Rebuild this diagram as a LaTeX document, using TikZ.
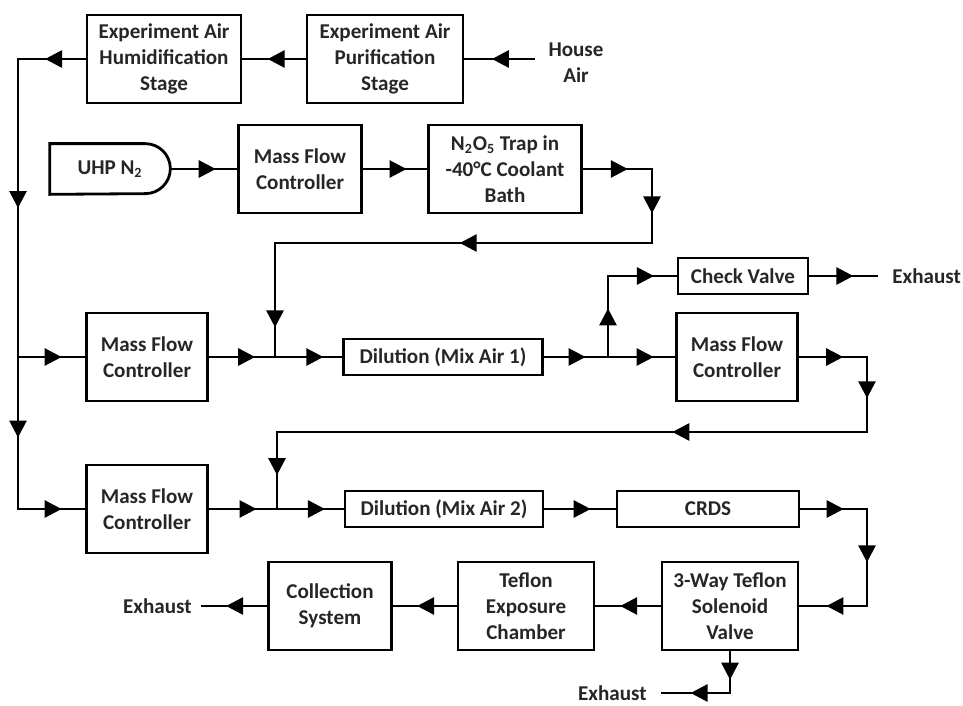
\documentclass[tikz,border=0pt]{standalone}
\usepackage{fontspec}
\setmainfont{Carlito}
\usetikzlibrary{arrows.meta,decorations.markings}

\begin{document}
\begin{tikzpicture}[
      x=0.02cm, y=-0.02cm,
      every node/.style={font=\fontsize{12}{14.8}\selectfont\bfseries, text=black!85},
      pipe/.style={line width=1.6pt, line cap=rect},
      flow/.style={pipe, postaction={decorate}, decoration={markings, mark=at position #1 with {\arrow{Triangle[length=3.4mm, width=3.4mm]}}}},
      flow/.default=0.65,
      unit/.style={draw, line width=1.6pt, align=center, minimum width=2.42cm, minimum height=1.76cm, inner sep=2pt},
      stage/.style={unit, minimum width=3.08cm},
      inline/.style={draw, line width=1.6pt, align=center, minimum height=0.72cm, inner sep=2pt},
      outlet/.style={align=center, inner xsep=0.3cm}
    ]
    \useasboundingbox (0,0) rectangle (963,706);
    % air supply
    \node[stage] (humid) at (164,59) {Experiment Air\\Humidification\\Stage};
    \node[stage, minimum width=3.12cm] (purif) at (385,59) {Experiment Air\\Purification\\Stage};
    \node[outlet] (house) at (576,63) {House\\Air};
    \coordinate (lTop) at (18,59);
    \coordinate (lMid) at (18,357);
    \coordinate (lBot) at (18,509);
    % N2O5 source
    \node[minimum width=2.4cm, minimum height=1cm, inner sep=0pt] (uhp) at (110,169) {UHP N\textsubscript{2}};
    \node[unit, minimum width=2.46cm] (mfcA) at (300,169) {Mass Flow\\Controller};
    \node[unit, minimum width=3.06cm] (trap) at (505,169) {N\textsubscript{2}O\textsubscript{5} Trap in\\-40°C Coolant\\Bath};
    \coordinate (trapOut) at (652,169);
    \coordinate (trapDown) at (652,243);
    \coordinate (feedA) at (275,243);
    \coordinate (mixA) at (275,357);
    % first dilution
    \node[unit] (mfcB) at (147,357) {Mass Flow\\Controller};
    \node[inline, minimum width=3.98cm] (dilA) at (443,357) {Dilution (Mix Air 1)};
    \coordinate (split) at (608,357);
    \coordinate (splitUp) at (608,276);
    \node[inline, minimum width=2.6cm] (check) at (743,276) {Check Valve};
    \node[outlet, anchor=west] (exA) at (877,276) {Exhaust};
    \node[unit] (mfcC) at (737,357) {Mass Flow\\Controller};
    \coordinate (mfcOut) at (867,357);
    \coordinate (mfcDown) at (867,432);
    \coordinate (feedB) at (277,432);
    \coordinate (mixB) at (277,509);
    % second dilution and measurement
    \node[unit] (mfcD) at (147,509) {Mass Flow\\Controller};
    \node[inline, minimum width=3.96cm] (dilB) at (444,509) {Dilution (Mix Air 2)};
    \node[inline, minimum width=3.64cm] (crds) at (708,509) {CRDS};
    \coordinate (crdsOut) at (867,509);
    \coordinate (crdsDown) at (867,606);
    \node[unit, minimum width=2.72cm] (valve) at (730,606) {3-Way Teflon\\Solenoid\\Valve};
    \node[unit, minimum width=2.72cm] (chamber) at (526,606) {Teflon\\Exposure\\Chamber};
    \node[unit, minimum width=2.46cm] (collect) at (330,606) {Collection\\System};
    \node[outlet, anchor=east, inner xsep=0.2cm] (exB) at (202,606) {Exhaust};
    \coordinate (valveDown) at (730,693);
    \node[outlet, anchor=east] (exC) at (662,693) {Exhaust};
    % the tank outline
    \draw[pipe] (uhp.north west) -- ([xshift=-0.5cm]uhp.north east) arc[start angle=90, end angle=-90, radius=0.5cm] -- (uhp.south west) -- cycle;
    % flow lines
    \draw[flow=0.6] (house.west |- purif.east) -- (purif.east);
    \draw[flow=0.6] (purif) -- (humid);
    \draw[flow=0.6] (humid) -- (lTop);
    \draw[flow=0.5] (lTop) -- (lMid);
    \draw[flow=0.53] (lMid) -- (lBot);
    \draw[flow] (lMid) -- (mfcB);
    \draw[flow] (lBot) -- (mfcD);
    \draw[flow=0.68] (uhp.east) -- (mfcA);
    \draw[flow=0.68] (mfcA) -- (trap);
    \draw[flow] (trap.east) -- (trapOut);
    \draw[flow=0.6] (trapOut) -- (trapDown);
    \draw[flow=0.51] (trapDown) -- (feedA);
    \draw[flow=0.74] (feedA) -- (mixA);
    \draw[flow=0.7] (mfcB) -- (mixA);
    \draw[flow=0.72] (mixA) -- (dilA);
    \draw[flow] (dilA) -- (split);
    \draw[flow=0.6] (split) -- (splitUp);
    \draw[flow=0.67] (splitUp) -- (check);
    \draw[flow] (check) -- (exA);
    \draw[flow=0.68] (split) -- (mfcC);
    \draw[flow] (mfcC) -- (mfcOut);
    \draw[flow=0.55] (mfcOut) -- (mfcDown);
    \draw[flow=0.33] (mfcDown) -- (feedB);
    \draw[flow=0.56] (feedB) -- (mixB);
    \draw[flow=0.7] (mfcD) -- (mixB);
    \draw[flow=0.72] (mixB) -- (dilB);
    \draw[flow] (dilB) -- (crds);
    \draw[flow] (crds) -- (crdsOut);
    \draw[flow=0.55] (crdsOut) -- (crdsDown);
    \draw[flow=0.6] (crdsDown) -- (valve);
    \draw[flow=0.62] (valve) -- (chamber);
    \draw[flow=0.62] (chamber) -- (collect);
    \draw[flow=0.63] (collect) -- (exB);
    \draw[flow=0.68] (valve.south) -- (valveDown);
    \draw[flow=0.58] (valveDown) -- (exC);
  \end{tikzpicture}
\end{document}
